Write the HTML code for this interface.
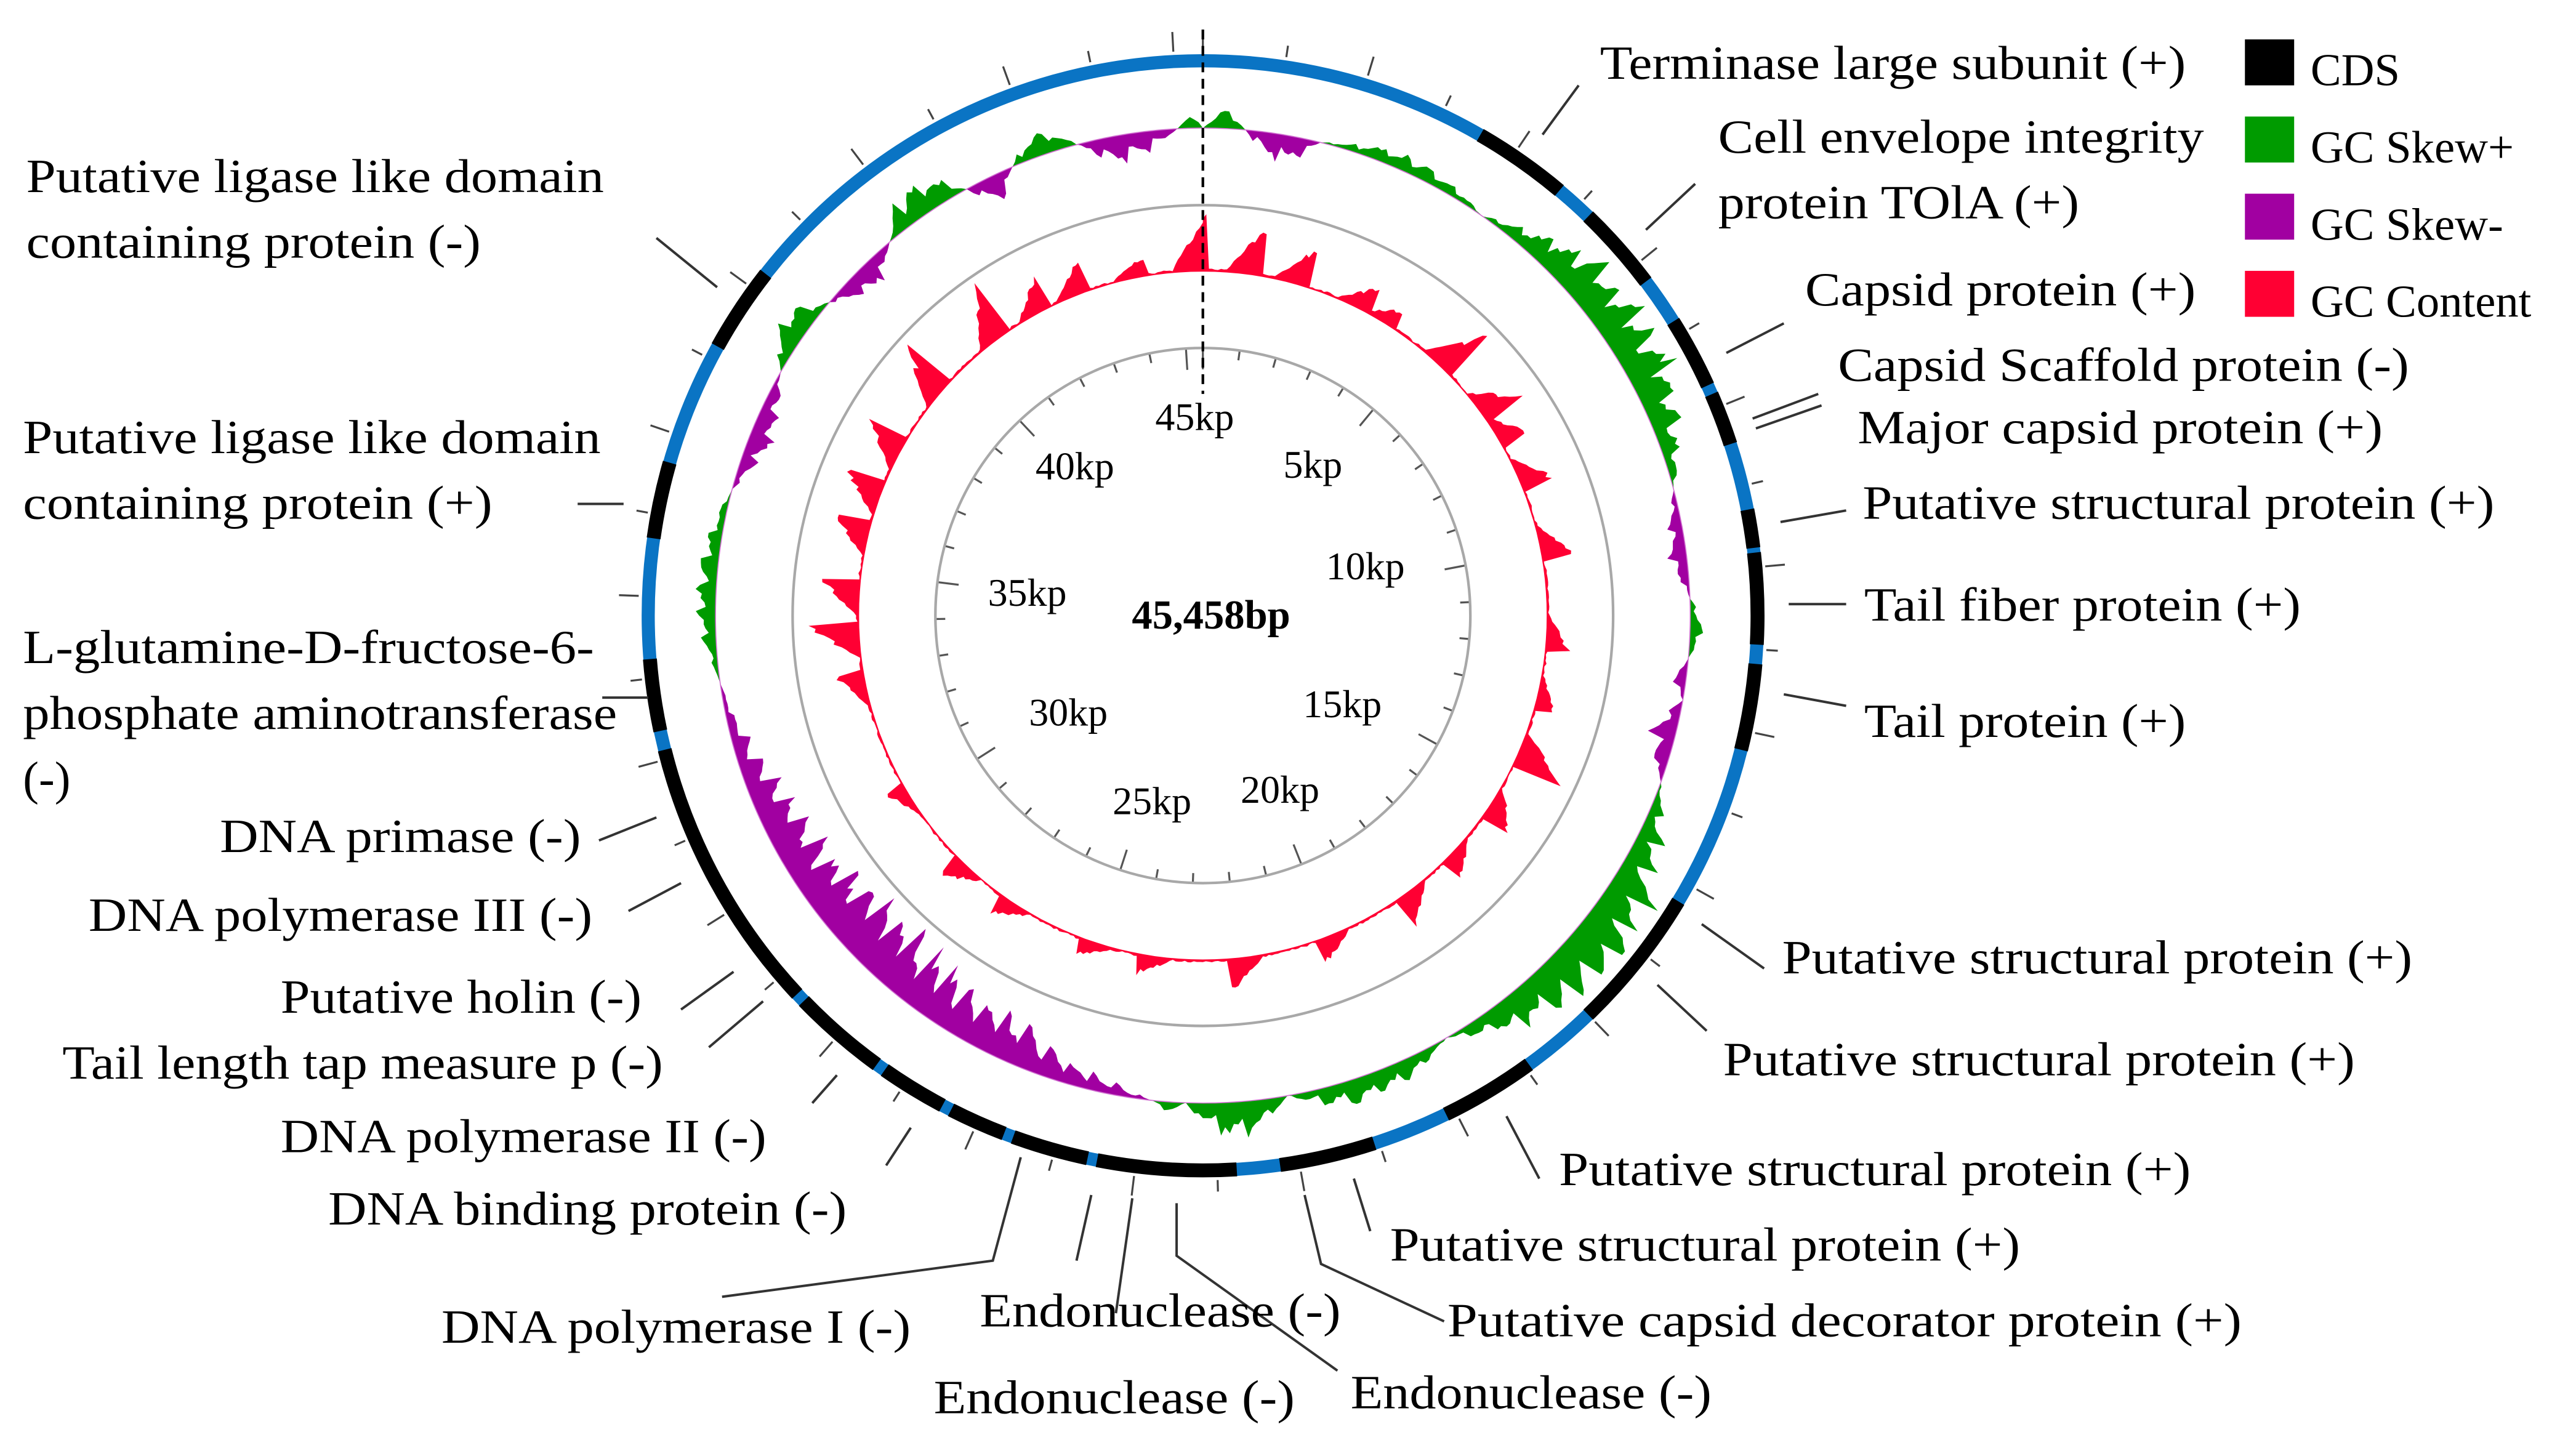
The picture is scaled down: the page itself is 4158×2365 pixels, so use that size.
<!DOCTYPE html>
<html><head><meta charset="utf-8"><style>
html,body{margin:0;padding:0;background:#fff}
svg{display:block}
text{font-family:"Liberation Serif",serif;fill:#000}
</style></head><body>
<svg id="s" width="4158" height="2365" viewBox="0 0 1560 887" preserveAspectRatio="none" xmlns="http://www.w3.org/2000/svg">
<rect width="1560" height="887" fill="#fff"/>
<g id="dyn"></g>
<circle cx="733" cy="375" r="250" fill="none" stroke="#a8a8a8" stroke-width="1.6"/>
<circle cx="733" cy="375" r="163" fill="none" stroke="#a8a8a8" stroke-width="1.6"/>
<line x1="733" y1="18" x2="733" y2="240" stroke="#000" stroke-width="1.6" stroke-dasharray="6,4"/>
<g id="lines" stroke="#333" stroke-width="1.5" fill="none">
<line x1="940" y1="82" x2="962" y2="52"/>
<line x1="1003" y1="140" x2="1033" y2="112"/>
<line x1="1052" y1="215" x2="1087" y2="197"/>
<line x1="1068" y1="255" x2="1108" y2="240"/>
<line x1="1070" y1="261" x2="1110" y2="247"/>
<line x1="1085" y1="318" x2="1125" y2="311"/>
<line x1="1090" y1="368" x2="1125" y2="368"/>
<line x1="1087" y1="423" x2="1125" y2="430"/>
<line x1="1037" y1="563" x2="1075" y2="590"/>
<line x1="1010" y1="600" x2="1040" y2="628"/>
<line x1="918" y1="680" x2="938" y2="718"/>
<line x1="825" y1="718" x2="835" y2="750"/>
<polyline points="795,728 805,770 880,805"/>
<polyline points="717,733 717,765 815,835"/>
<line x1="690" y1="730" x2="680" y2="800"/>
<line x1="665" y1="728" x2="656" y2="768"/>
<polyline points="622,705 605,768 440,790"/>
<line x1="555" y1="687" x2="540" y2="710"/>
<line x1="510" y1="655" x2="495" y2="672"/>
<line x1="465" y1="610" x2="432" y2="638"/>
<line x1="447" y1="592" x2="415" y2="615"/>
<line x1="415" y1="538" x2="383" y2="555"/>
<line x1="400" y1="498" x2="365" y2="512"/>
<line x1="395" y1="425" x2="367" y2="425"/>
<line x1="380" y1="307" x2="352" y2="307"/>
<line x1="437" y1="175" x2="400" y2="145"/>
</g>
<g font-size="29">
<text x="975" y="48" textLength="357" lengthAdjust="spacingAndGlyphs">Terminase large subunit (+)</text>
<text x="1047" y="93" textLength="296" lengthAdjust="spacingAndGlyphs">Cell envelope integrity</text>
<text x="1047" y="133" textLength="220" lengthAdjust="spacingAndGlyphs">protein TOlA (+)</text>
<text x="1100" y="186" textLength="238" lengthAdjust="spacingAndGlyphs">Capsid protein (+)</text>
<text x="1120" y="232" textLength="348" lengthAdjust="spacingAndGlyphs">Capsid Scaffold protein (-)</text>
<text x="1132" y="270" textLength="320" lengthAdjust="spacingAndGlyphs">Major capsid protein (+)</text>
<text x="1135" y="316" textLength="385" lengthAdjust="spacingAndGlyphs">Putative structural protein (+)</text>
<text x="1136" y="378" textLength="266" lengthAdjust="spacingAndGlyphs">Tail fiber protein (+)</text>
<text x="1136" y="449" textLength="196" lengthAdjust="spacingAndGlyphs">Tail protein (+)</text>
<text x="1086" y="593" textLength="384" lengthAdjust="spacingAndGlyphs">Putative structural protein (+)</text>
<text x="1050" y="655" textLength="385" lengthAdjust="spacingAndGlyphs">Putative structural protein (+)</text>
<text x="950" y="722" textLength="385" lengthAdjust="spacingAndGlyphs">Putative structural protein (+)</text>
<text x="847" y="768" textLength="384" lengthAdjust="spacingAndGlyphs">Putative structural protein (+)</text>
<text x="882" y="814" textLength="484" lengthAdjust="spacingAndGlyphs">Putative capsid decorator  protein (+)</text>
<text x="823" y="858" textLength="220" lengthAdjust="spacingAndGlyphs">Endonuclease (-)</text>
<text x="569" y="861" textLength="220" lengthAdjust="spacingAndGlyphs">Endonuclease (-)</text>
<text x="597" y="808" textLength="220" lengthAdjust="spacingAndGlyphs">Endonuclease (-)</text>
<text x="269" y="818" textLength="286" lengthAdjust="spacingAndGlyphs">DNA polymerase I (-)</text>
<text x="200" y="746" textLength="316" lengthAdjust="spacingAndGlyphs">DNA binding protein (-)</text>
<text x="171" y="702" textLength="296" lengthAdjust="spacingAndGlyphs">DNA polymerase II (-)</text>
<text x="38" y="657" textLength="366" lengthAdjust="spacingAndGlyphs">Tail length tap measure p (-)</text>
<text x="171" y="617" textLength="220" lengthAdjust="spacingAndGlyphs">Putative holin (-)</text>
<text x="54" y="567" textLength="307" lengthAdjust="spacingAndGlyphs">DNA polymerase III (-)</text>
<text x="134" y="519" textLength="220" lengthAdjust="spacingAndGlyphs">DNA primase (-)</text>
<text x="14" y="404" textLength="348" lengthAdjust="spacingAndGlyphs">L-glutamine-D-fructose-6-</text>
<text x="14" y="444" textLength="362" lengthAdjust="spacingAndGlyphs">phosphate aminotransferase</text>
<text x="14" y="484">(-)</text>
<text x="14" y="276" textLength="352" lengthAdjust="spacingAndGlyphs">Putative ligase like domain</text>
<text x="14" y="316" textLength="286" lengthAdjust="spacingAndGlyphs">containing protein (+)</text>
<text x="16" y="117" textLength="352" lengthAdjust="spacingAndGlyphs">Putative ligase like domain</text>
<text x="16" y="157" textLength="277" lengthAdjust="spacingAndGlyphs">containing protein (-)</text>
</g>
<rect x="1368" y="24" width="30" height="28" fill="#000"/>
<rect x="1368" y="71" width="30" height="28" fill="#009b00"/>
<rect x="1368" y="118" width="30" height="28" fill="#a100a1"/>
<rect x="1368" y="165" width="30" height="28" fill="#ff0033"/>
<g font-size="28">
<text x="1408" y="52">CDS</text>
<text x="1408" y="99">GC Skew+</text>
<text x="1408" y="146">GC Skew-</text>
<text x="1408" y="193">GC Content</text>
</g>
<g font-size="24" text-anchor="middle">
<text x="728" y="262">45kp</text>
<text x="800" y="291">5kp</text>
<text x="832" y="353">10kp</text>
<text x="818" y="437">15kp</text>
<text x="780" y="489">20kp</text>
<text x="702" y="496">25kp</text>
<text x="651" y="442">30kp</text>
<text x="626" y="369">35kp</text>
<text x="655" y="292">40kp</text>
<text x="738" y="383" font-weight="bold" font-size="25">45,458bp</text>
</g>
</svg>
<script>
(function(){
var NS="http://www.w3.org/2000/svg",g=document.getElementById("dyn"),cx=733,cy=375;
function P(a,r){var t=a*Math.PI/180;return [cx+r*Math.sin(t),cy-r*Math.cos(t)];}
function el(n,at){var e=document.createElementNS(NS,n);for(var k in at)e.setAttribute(k,at[k]);g.appendChild(e);return e;}
function arc(a1,a2,r){var p1=P(a1,r),p2=P(a2,r);return "M"+p1[0]+","+p1[1]+"A"+r+","+r+" 0 "+((a2-a1)>180?1:0)+" 1 "+p2[0]+","+p2[1];}
var seed=7;function rnd(){seed=(seed*16807)%2147483647;return seed/2147483647;}
var reg=[[0,5,14],[5,14,-20],[14,35,12],[35,75,38],[75,88,-13],[88,95,10],[95,100,-10],[100,110,-18],[110,150,40],[150,170,20],[170,182,28],[182,186,6],[186,262,-46],[262,285,15],[285,300,-18],[300,310,20],[310,320,-20],[320,331,25],[331,337,-20],[337,345,18],[345,357,-21],[357,360,10]];
function skew(a){for(var i=0;i<reg.length;i++){var r=reg[i];if(a>=r[0]&&a<r[1]){var f=(a-r[0])/(r[1]-r[0]);var env=Math.sin(Math.PI*f);var saw=0.4+0.6*((a*1.3)%4)/4;return r[2]*env*saw*(0.7+0.3*rnd());}}return 0;}
var R0=297,gp=[],pp=[],step=0.5;
for(var a=0;a<=360;a+=step){var v=skew(a%360);gp.push(P(a,R0+Math.max(v,0)));pp.push(P(a,R0+Math.min(v,0)));}
function poly(pts,r,col){var d="M"+pts.map(function(p){return p[0].toFixed(1)+","+p[1].toFixed(1)}).join("L");for(var a=360;a>=0;a-=2){var p=P(a,r);d+="L"+p[0].toFixed(1)+","+p[1].toFixed(1);}el("path",{d:d+"Z",fill:col});}
poly(gp,R0,"#009b00");poly(pp,R0,"#a100a1");
el("circle",{cx:cx,cy:cy,r:R0,fill:"none",stroke:"#d070d0","stroke-width":0.6});
var sp=[[0,38],[9,32],[17,26],[28,18],[33,12],[45,34],[55,26],[60,18],[68,20],[80,20],[95,15],[105,12],[115,34],[125,20],[135,15],[145,20],[160,15],[175,20],[190,12],[200,10],[215,12],[225,15],[240,12],[260,18],[268,34],[275,24],[285,24],[292,26],[300,26],[312,34],[325,36],[333,20],[340,20],[350,12]];
var R1=210,rp=[];
for(var a=0;a<=360;a+=step){var v=0.3+1.2*rnd();for(var i=0;i<sp.length;i++){var d=a-sp[i][0];if(d>180)d-=360;if(d<-180)d+=360;if(d>-5&&d<=0.5){v+=sp[i][1]*(d+5)/5.5*(0.75+0.25*rnd());}}rp.push(P(a,R1+v));}
poly(rp,R1-0.5,"#ff0033");
el("circle",{cx:cx,cy:cy,r:338,fill:"none",stroke:"#0a74c4","stroke-width":8});
var cds=[[30,40],[44,53],[58,65.5],[66.5,72],[79,83],[83.5,93],[95,104],[121,136],[144,154],[162,172],[176.5,191],[192,200],[201,207],[208,215],[216,226],[227,256],[258,265.5],[278,286],[299,308]];
cds.forEach(function(c){el("path",{d:arc(c[0],c[1],338),fill:"none",stroke:"#000","stroke-width":8.5});});
for(var a=0;a<360;a+=8.5){var p1=P(a,344),p2=P(a,(a%17==0)?356:351);el("line",{x1:p1[0],y1:p1[1],x2:p2[0],y2:p2[1],stroke:"#444","stroke-width":1.2});}
var kb=360/45.458;
for(var k=0;k<46;k++){var a=k*kb,p1=P(a,163),p2=P(a,(k%5==0)?150:157);el("line",{x1:p1[0],y1:p1[1],x2:p2[0],y2:p2[1],stroke:"#555","stroke-width":1.2});}
})();
</script>
</body></html>
